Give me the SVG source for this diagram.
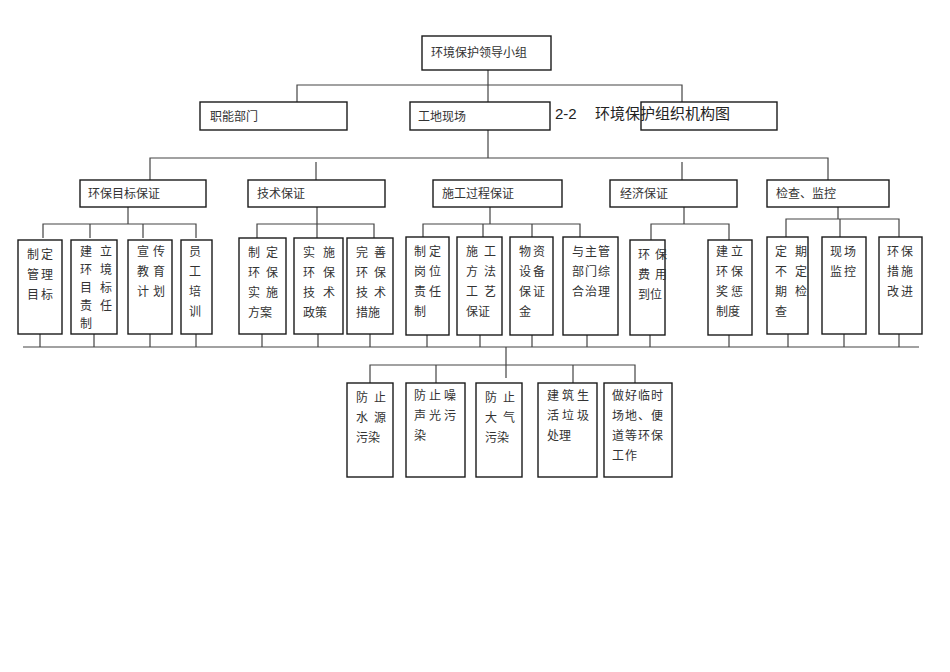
<svg xmlns="http://www.w3.org/2000/svg" width="950" height="672" viewBox="0 0 950 672">
<style>
rect{fill:#fff;stroke:#1a1a1a;stroke-width:1.4}
text{font-family:"Noto Sans CJK SC","Liberation Serif",serif;font-size:12px;fill:#333}
.c path{fill:none;stroke:#444;stroke-width:1.2}
.t{font-family:"Liberation Sans","Noto Sans CJK SC",sans-serif;font-size:15px;fill:#222}
</style>
<rect x="0" y="0" width="950" height="672" style="fill:#fff;stroke:none"/>
<g class="c">
<path d="M488 70V102M297 102V85H682V102M488 130V158M150 180V158H828V180M316 162V180M682 162V180"/>
<path d="M128 207V224M43 238V224H196V238M90 224V238M143 224V238"/>
<path d="M317 207V224M257 238V224H374V238M317 224V238"/>
<path d="M490 207V224M423 238V224H580V238M483 224V238M532 224V238"/>
<path d="M684 207V224M651 240V224H729V240"/>
<path d="M838 207V219M786 238V219H899V238M840 219V238"/>
<path d="M23 347H919M40 334V347M94 334V347M150 334V347M196 334V347M262 334V347M318 334V347M370 334V347M427 334V347M480 334V347M532 334V347M587 334V347M650 334V347M729 334V347M788 334V347M844 334V347M899 334V347"/>
<path d="M506 347V378M370 383V365H635V383M436 365V383M573 365V383"/>
</g>
<g id="n0"><rect x="422" y="36" width="129" height="34"/><text x="431" y="57">环境保护领导小组</text></g>
<g id="n1"><rect x="200" y="102" width="147" height="28"/><text x="210" y="121">职能部门</text></g>
<g id="n2"><rect x="410" y="102" width="140" height="28"/><text x="418" y="121">工地现场</text></g>
<g id="n3"><rect x="641" y="102" width="136" height="28"/></g>
<text class="t" y="119"><tspan x="555">2-2</tspan><tspan x="595">环境保护组织机构图</tspan></text>
<g id="a"><rect x="80" y="180" width="126" height="27"/><text x="88" y="198">环保目标保证</text></g>
<g id="b"><rect x="248" y="180" width="137" height="27"/><text x="257" y="198">技术保证</text></g>
<g id="c"><rect x="433" y="180" width="129" height="27"/><text x="442" y="198">施工过程保证</text></g>
<g id="d"><rect x="610" y="180" width="127" height="27"/><text x="620" y="198">经济保证</text></g>
<g id="e"><rect x="767" y="180" width="122" height="27"/><text x="776" y="198">检查、监控</text></g>
<g id="a1"><rect x="18" y="240" width="44" height="94"/><text x="27" y="259" letter-spacing="2"><tspan x="27">制定</tspan><tspan x="27" dy="20">管理</tspan><tspan x="27" dy="20">目标</tspan></text></g>
<g id="a2"><rect x="71" y="240" width="46" height="94"/><text x="80" y="256" letter-spacing="8"><tspan x="80">建立</tspan><tspan x="80" dy="18">环境</tspan><tspan x="80" dy="18">目标</tspan><tspan x="80" dy="18">责任</tspan><tspan x="80" dy="18">制</tspan></text></g>
<g id="a3"><rect x="128" y="240" width="44" height="94"/><text x="137" y="256" letter-spacing="4"><tspan x="137">宣传</tspan><tspan x="137" dy="20">教育</tspan><tspan x="137" dy="20">计划</tspan></text></g>
<g id="a4"><rect x="181" y="240" width="31" height="94"/><text x="189" y="256"><tspan x="189">员</tspan><tspan x="189" dy="20">工</tspan><tspan x="189" dy="20">培</tspan><tspan x="189" dy="20">训</tspan></text></g>
<g id="b1"><rect x="239" y="238" width="47" height="96"/><text x="248" y="257" letter-spacing="6"><tspan x="248">制定</tspan><tspan x="248" dy="20">环保</tspan><tspan x="248" dy="20">实施</tspan><tspan x="248" dy="20" letter-spacing="0">方案</tspan></text></g>
<g id="b2"><rect x="294" y="238" width="49" height="96"/><text x="303" y="257" letter-spacing="8"><tspan x="303">实施</tspan><tspan x="303" dy="20">环保</tspan><tspan x="303" dy="20">技术</tspan><tspan x="303" dy="20" letter-spacing="0">政策</tspan></text></g>
<g id="b3"><rect x="347" y="238" width="46" height="96"/><text x="356" y="257" letter-spacing="6"><tspan x="356">完善</tspan><tspan x="356" dy="20">环保</tspan><tspan x="356" dy="20">技术</tspan><tspan x="356" dy="20" letter-spacing="0">措施</tspan></text></g>
<g id="c1"><rect x="406" y="237" width="43" height="98"/><text x="414" y="256" letter-spacing="3"><tspan x="414">制定</tspan><tspan x="414" dy="20">岗位</tspan><tspan x="414" dy="20">责任</tspan><tspan x="414" dy="20">制</tspan></text></g>
<g id="c2"><rect x="457" y="237" width="45" height="98"/><text x="466" y="256" letter-spacing="6"><tspan x="466">施工</tspan><tspan x="466" dy="20">方法</tspan><tspan x="466" dy="20">工艺</tspan><tspan x="466" dy="20" letter-spacing="0">保证</tspan></text></g>
<g id="c3"><rect x="510" y="237" width="43" height="98"/><text x="519" y="256" letter-spacing="2"><tspan x="519">物资</tspan><tspan x="519" dy="20">设备</tspan><tspan x="519" dy="20">保证</tspan><tspan x="519" dy="20">金</tspan></text></g>
<g id="c4"><rect x="563" y="237" width="55" height="98"/><text x="572" y="256" letter-spacing="1"><tspan x="572">与主管</tspan><tspan x="572" dy="20">部门综</tspan><tspan x="572" dy="20">合治理</tspan></text></g>
<g id="d1"><rect x="630" y="240" width="35" height="95"/><text x="638" y="259" letter-spacing="5"><tspan x="638">环保</tspan><tspan x="638" dy="20">费用</tspan><tspan x="638" dy="20" letter-spacing="0">到位</tspan></text></g>
<g id="d2"><rect x="708" y="240" width="44" height="95"/><text x="716" y="256" letter-spacing="3"><tspan x="716">建立</tspan><tspan x="716" dy="20">环保</tspan><tspan x="716" dy="20">奖惩</tspan><tspan x="716" dy="20" letter-spacing="0">制度</tspan></text></g>
<g id="e1"><rect x="767" y="237" width="41" height="97"/><text x="775" y="256" letter-spacing="8"><tspan x="775">定期</tspan><tspan x="775" dy="20">不定</tspan><tspan x="775" dy="20">期检</tspan><tspan x="775" dy="20">查</tspan></text></g>
<g id="e2"><rect x="822" y="237" width="44" height="97"/><text x="830" y="256" letter-spacing="2"><tspan x="830">现场</tspan><tspan x="830" dy="20">监控</tspan></text></g>
<g id="e3"><rect x="879" y="237" width="43" height="97"/><text x="887" y="256" letter-spacing="2"><tspan x="887">环保</tspan><tspan x="887" dy="20">措施</tspan><tspan x="887" dy="20">改进</tspan></text></g>
<g id="f1"><rect x="347" y="383" width="46" height="94"/><text x="356" y="402" letter-spacing="6"><tspan x="356">防止</tspan><tspan x="356" dy="20">水源</tspan><tspan x="356" dy="20" letter-spacing="0">污染</tspan></text></g>
<g id="f2"><rect x="406" y="383" width="59" height="94"/><text x="414" y="400" letter-spacing="3"><tspan x="414">防止噪</tspan><tspan x="414" dy="20">声光污</tspan><tspan x="414" dy="20">染</tspan></text></g>
<g id="f3"><rect x="476" y="383" width="46" height="94"/><text x="485" y="402" letter-spacing="6"><tspan x="485">防止</tspan><tspan x="485" dy="20">大气</tspan><tspan x="485" dy="20" letter-spacing="0">污染</tspan></text></g>
<g id="f4"><rect x="538" y="383" width="59" height="94"/><text x="547" y="400" letter-spacing="3"><tspan x="547">建筑生</tspan><tspan x="547" dy="20">活垃圾</tspan><tspan x="547" dy="20" letter-spacing="0">处理</tspan></text></g>
<g id="f5"><rect x="604" y="383" width="68" height="94"/><text x="612" y="400" letter-spacing="1"><tspan x="612">做好临时</tspan><tspan x="612" dy="20">场地、便</tspan><tspan x="612" dy="20">道等环保</tspan><tspan x="612" dy="20">工作</tspan></text></g>
</svg>
